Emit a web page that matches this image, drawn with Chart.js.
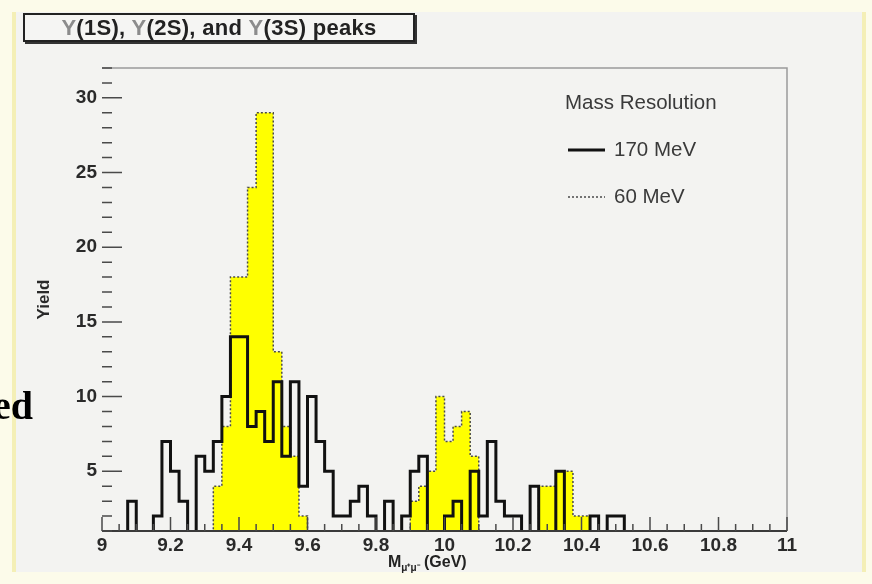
<!DOCTYPE html>
<html>
<head>
<meta charset="utf-8">
<title>Upsilon peaks</title>
<script src="https://cdn.jsdelivr.net/npm/chart.js"></script>
<style>
  html, body { margin: 0; padding: 0; }
  body { width: 872px; height: 584px; background: #fcfbea; position: relative; overflow: hidden; font-family: "Liberation Sans", Arial, sans-serif; }
  #pad { position: absolute; left: 12px; top: 12px; width: 846px; height: 560px; background: #f3f3f1; border-left: 4px solid #f4efb6; border-right: 4px solid #f4efb6; }
  #chartBox { position: absolute; left: 0; top: 0; width: 872px; height: 584px; }
  #plotTitle { position: absolute; left: 23px; top: 13px; width: 388px; height: 25px; line-height: 25px; border: 2px solid #222; box-shadow: 2px 2px 0 #333; background: #f5f5f3; text-align: center; font: bold 22px "Liberation Sans", Arial, sans-serif; letter-spacing: 0.3px; color: #222; }
  #plotTitle .u { color: #8c8c8c; }
  #xTitle { position: absolute; left: 388px; top: 554px; font: bold 16px "Liberation Sans", Arial, sans-serif; line-height: 16px; color: #222; white-space: nowrap; }
  #xTitle sub { font-size: 10px; vertical-align: -4px; }
  #slideText { position: absolute; right: 839px; top: 386px; font: bold 40px "Liberation Serif", "Times New Roman", serif; line-height: 40px; color: #000; }
</style>
</head>
<body>
<div id="pad"></div>
<div id="chartBox"><canvas id="yieldChart" width="872" height="584"></canvas></div>
<div id="plotTitle"><span class="u">Υ</span>(1S), <span class="u">Υ</span>(2S), and <span class="u">Υ</span>(3S) peaks</div>
<div id="xTitle">M<sub>μ⁺μ⁻</sub> (GeV)</div>
<div id="slideText">ed</div>
<script>
// histogram binning: 80 bins of 25 MeV between 9 and 11 GeV
const binLow = 9.0;
const binWidth = 0.025;

// 170 MeV mass resolution (black line)
const yield170 = [
  0, 0, 0, 3, 0, 0, 2, 7, 5, 3,
  0, 6, 5, 7, 10, 14, 14, 8, 9, 7,
  11, 6, 11, 4, 10, 7, 5, 2, 2, 3,
  4, 2, 0, 3, 0, 2, 5, 6, 0, 0,
  2, 3, 0, 5, 2, 7, 3, 2, 2, 0,
  4, 0, 0, 5, 0, 0, 0, 2, 0, 2,
  2, 0, 0, 0, 0, 0, 0, 0, 0, 0,
  0, 0, 0, 0, 0, 0, 0, 0, 0, 0
];

// 60 MeV mass resolution (yellow, dotted)
const yield60 = [
  0, 0, 0, 0, 0, 0, 0, 0, 0, 0,
  0, 0, 0, 4, 8, 18, 18, 24, 29, 29,
  13, 8, 6, 2, 0, 0, 0, 0, 0, 0,
  0, 0, 0, 0, 0, 0, 3, 4, 5, 10,
  7, 8, 9, 6, 0, 0, 0, 0, 0, 0,
  0, 4, 4, 5, 5, 2, 2, 0, 0, 0,
  0, 0, 0, 0, 0, 0, 0, 0, 0, 0,
  0, 0, 0, 0, 0, 0, 0, 0, 0, 0
];

const seriesLabels = ['170 MeV', '60 MeV'];
const legendHeader = 'Mass Resolution';
const yAxisTitle = 'Yield';

const xTickValues = [9, 9.2, 9.4, 9.6, 9.8, 10, 10.2, 10.4, 10.6, 10.8, 11];
const xTickLabels = ['9', '9.2', '9.4', '9.6', '9.8', '10', '10.2', '10.4', '10.6', '10.8', '11'];
const yTickValues = [5, 10, 15, 20, 25, 30];
const yTickLabels = ['5', '10', '15', '20', '25', '30'];

// bin contents -> points on the left bin edges (+ closing edge)
function toSteps(counts) {
    const pts = counts.map((c, i) => ({ x: binLow + i * binWidth, y: c }));
    pts.push({ x: binLow + counts.length * binWidth, y: counts[counts.length - 1] });
    return pts;
}

const tickFont = { family: '"Liberation Sans", Arial, sans-serif', size: 19, weight: 'bold' };
const titleFont = { family: '"Liberation Sans", Arial, sans-serif', size: 17, weight: 'bold' };

// ROOT-like frame: ticks pointing inside, grey top/right border
const rootFrame = {
    id: 'rootFrame',
    afterDatasetsDraw(chart) {
        const { ctx, chartArea: a, scales: { x, y } } = chart;
        ctx.save();
        ctx.strokeStyle = '#9a9a9a';
        ctx.lineWidth = 1.5;
        ctx.beginPath();
        ctx.moveTo(a.left, a.top);
        ctx.lineTo(a.right, a.top);
        ctx.lineTo(a.right, a.bottom);
        ctx.stroke();

        ctx.strokeStyle = '#3a3a3a';
        ctx.lineWidth = 2;
        ctx.beginPath();
        ctx.moveTo(a.left, a.bottom);
        ctx.lineTo(a.right, a.bottom);
        ctx.stroke();

        ctx.lineWidth = 1.5;
        ctx.strokeStyle = '#4a4a4a';
        ctx.beginPath();
        for (let i = 0; i <= 40; i++) {
            const px = x.getPixelForValue(x.min + i * 0.05);
            const len = i % 4 === 0 ? 14 : 7;
            ctx.moveTo(px, a.bottom);
            ctx.lineTo(px, a.bottom - len);
        }
        for (let v = Math.ceil(y.min); v <= y.max; v++) {
            const py = y.getPixelForValue(v);
            const len = v % 5 === 0 ? 20 : 10;
            ctx.moveTo(a.left, py);
            ctx.lineTo(a.left + len, py);
        }
        ctx.stroke();
        ctx.restore();
    }
};

const massLegend = {
    id: 'massLegend',
    afterDraw(chart) {
        const ctx = chart.ctx;
        ctx.save();
        ctx.fillStyle = '#3a3a3a';
        ctx.font = '20.5px "Liberation Sans", Arial, sans-serif';
        ctx.textBaseline = 'middle';
        ctx.fillText(legendHeader, 565, 103);
        chart.data.datasets.forEach((ds, i) => {
            const yy = 150 + i * 47;
            ctx.beginPath();
            ctx.setLineDash(ds.borderDash || []);
            ctx.lineWidth = ds.borderWidth;
            ctx.strokeStyle = ds.borderColor;
            ctx.moveTo(568, yy);
            ctx.lineTo(605, yy);
            ctx.stroke();
            ctx.fillText(ds.label, 614, yy);
        });
        ctx.restore();
    }
};

window.addEventListener('load', function () {

    const data = {
        datasets: [
            {
                label: seriesLabels[0],
                data: toSteps(yield170),
                stepped: 'before',
                borderColor: '#111111',
                borderWidth: 3,
                pointRadius: 0,
                fill: false,
                order: 0
            },
            {
                label: seriesLabels[1],
                data: toSteps(yield60),
                stepped: 'before',
                borderColor: '#4a4a4a',
                borderWidth: 1.5,
                borderDash: [2, 2],
                backgroundColor: '#ffff00',
                pointRadius: 0,
                fill: 'start',
                order: 1
            }
        ]
    };

    const config = {
        type: 'line',
        data: data,
        options: {
            responsive: false,
            animation: false,
            devicePixelRatio: 1,
            layout: { padding: { left: 30, right: 85, top: 68, bottom: 0 } },
            plugins: {
                legend: { display: false },
                tooltip: { enabled: false },
                title: { display: false }
            },
            scales: {
                x: {
                    type: 'linear',
                    min: 9,
                    max: 11,
                    grid: { display: false, drawTicks: false },
                    border: { display: false },
                    afterBuildTicks: s => { s.ticks = xTickValues.map(v => ({ value: v })); },
                    afterFit: s => { s.height = 53; },
                    ticks: {
                        autoSkip: false,
                        maxRotation: 0,
                        padding: 3,
                        color: '#2a2a2a',
                        font: tickFont,
                        callback: (v, i) => xTickLabels[i]
                    }
                },
                y: {
                    min: 1,
                    max: 32,
                    grid: { display: false, drawTicks: false },
                    border: { display: false },
                    afterBuildTicks: s => { s.ticks = yTickValues.map(v => ({ value: v })); },
                    afterFit: s => { s.width = 72; },
                    title: {
                        display: true,
                        text: yAxisTitle,
                        color: '#2a2a2a',
                        font: titleFont,
                        padding: { top: 4, bottom: 0 }
                    },
                    ticks: {
                        padding: 5,
                        color: '#2a2a2a',
                        font: tickFont,
                        callback: (v, i) => yTickLabels[i]
                    }
                }
            }
        },
        plugins: [rootFrame, massLegend]
    };

    const ctx = document.getElementById('yieldChart').getContext('2d');

    const yieldChart = new Chart(ctx, config);
});
</script>
</body>
</html>
